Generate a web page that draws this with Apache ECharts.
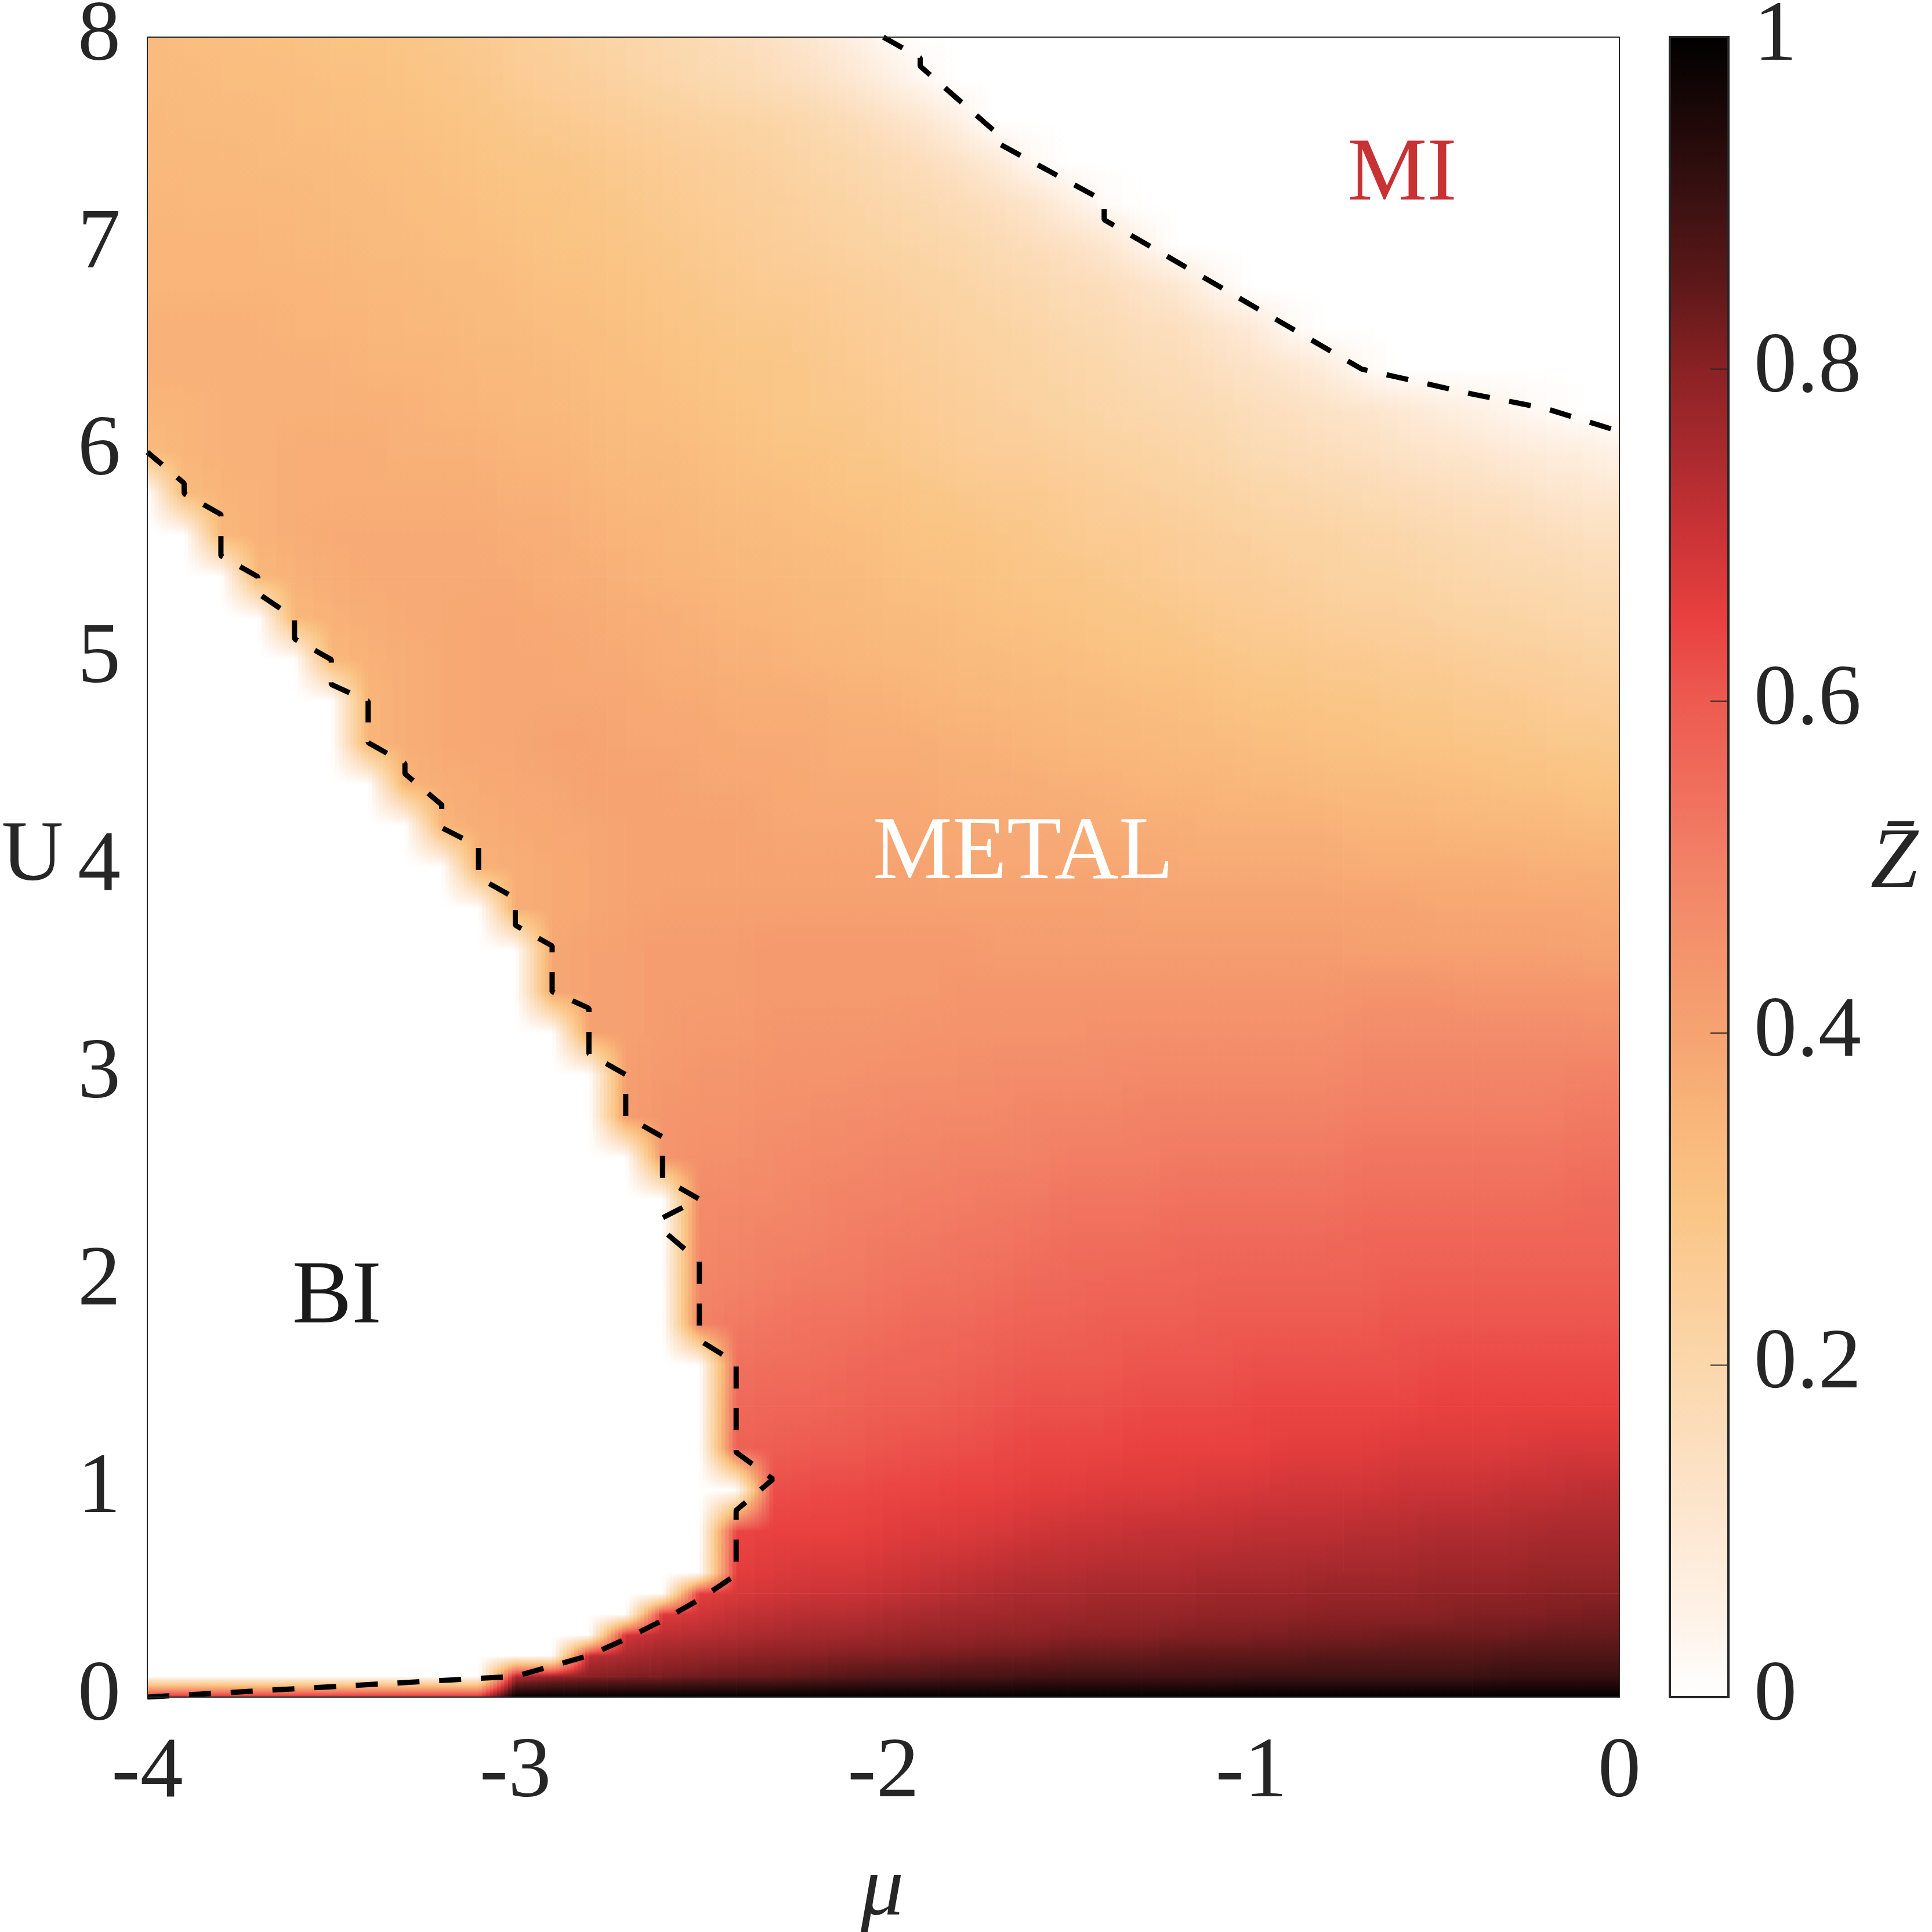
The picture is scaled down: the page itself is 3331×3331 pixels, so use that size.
<!DOCTYPE html>
<html>
<head>
<meta charset="utf-8">
<script src="https://cdn.jsdelivr.net/npm/echarts@6/dist/echarts.min.js"></script>
<style>
  html, body { margin: 0; padding: 0; background: #fff; }
  #main { width: 3331px; height: 3331px; }
</style>
</head>
<body>
<div id="main"></div>
<script>
// chemical potential columns and interaction rows of the Z map
var muValues = [-4.0, -3.9, -3.8, -3.7, -3.6, -3.5, -3.4, -3.3, -3.2, -3.1,
  -3.0, -2.9, -2.8, -2.7, -2.6, -2.5, -2.4, -2.3, -2.2, -2.1,
  -2.0, -1.9, -1.8, -1.7, -1.6, -1.5, -1.4, -1.3, -1.2, -1.1,
  -1.0, -0.9, -0.8, -0.7, -0.6, -0.5, -0.4, -0.3, -0.2, -0.1, 0.0];
var uLevels = [0, 0.1, 0.2, 0.3, 0.4, 0.5, 0.6, 0.8, 1.0, 1.2, 1.4, 1.6, 1.8, 2.0,
  2.2, 2.4, 2.6, 2.8, 3.0, 3.2, 3.4, 3.6, 3.8, 4.0, 4.2, 4.4, 4.6, 4.8, 5.0,
  5.2, 5.4, 5.6, 5.8, 6.0, 6.2, 6.4, 6.6, 6.8, 7.0, 7.2, 7.4, 7.6, 7.8, 8.0];

// quasiparticle weight, one row per U level, one column per mu
var zGrid = [
  [.7,.7,.7,.7,.7,.7,.7,.7,.7,.7, 1,1,1,1,1,1,1,1,1,1, 1,1,1,1,1,1,1,1,1,1, 1,1,1,1,1,1,1,1,1,1, 1],
  [0,0,0,0,0,0,0,0,0,0, .74,.78,.8,.81,.82,.83,.84,.84,.85,.86, .87,.87,.88,.88,.89,.89,.89,.89,.89,.89, .9,.9,.9,.9,.9,.9,.9,.91,.91,.91, .91],
  [0,0,0,0,0,0,0,0,0,0, 0,0,.72,.75,.77,.78,.79,.8,.8,.81, .81,.82,.82,.83,.83,.84,.84,.84,.85,.85, .85,.85,.86,.86,.86,.86,.86,.87,.87,.87, .87],
  [0,0,0,0,0,0,0,0,0,0, 0,0,0,.69,.72,.73,.74,.75,.76,.76, .77,.78,.78,.79,.79,.8,.8,.8,.81,.81, .81,.82,.82,.82,.83,.83,.83,.83,.84,.84, .84],
  [0,0,0,0,0,0,0,0,0,0, 0,0,0,0,.67,.69,.71,.72,.73,.73, .74,.75,.76,.76,.77,.77,.78,.78,.78,.79, .79,.79,.8,.8,.8,.8,.81,.81,.81,.82, .82],
  [0,0,0,0,0,0,0,0,0,0, 0,0,0,0,0,.66,.68,.69,.7,.7, .71,.72,.73,.74,.75,.75,.76,.76,.76,.77, .77,.77,.78,.78,.78,.79,.79,.79,.8,.8, .8],
  [0,0,0,0,0,0,0,0,0,0, 0,0,0,0,0,0,.66,.67,.68,.68, .69,.7,.71,.72,.73,.73,.74,.74,.74,.75, .75,.75,.76,.76,.76,.77,.77,.77,.78,.78, .78],
  [0,0,0,0,0,0,0,0,0,0, 0,0,0,0,0,0,.64,.65,.65,.65, .66,.67,.67,.68,.69,.7,.7,.71,.71,.71, .72,.72,.72,.73,.73,.74,.74,.74,.75,.75, .75],
  [0,0,0,0,0,0,0,0,0,0, 0,0,0,0,0,0,0,.62,.63,.63, .64,.64,.65,.65,.66,.66,.67,.67,.67,.68, .68,.69,.69,.69,.7,.7,.7,.71,.71,.72, .72],
  [0,0,0,0,0,0,0,0,0,0, 0,0,0,0,0,0,.58,.59,.6,.6, .61,.62,.62,.63,.64,.64,.64,.65,.65,.65, .65,.66,.66,.66,.67,.67,.67,.67,.68,.68, .68],
  [0,0,0,0,0,0,0,0,0,0, 0,0,0,0,0,0,.56,.57,.57,.58, .59,.59,.6,.61,.62,.62,.62,.63,.63,.63, .64,.64,.64,.64,.64,.65,.65,.65,.65,.65, .65],
  [0,0,0,0,0,0,0,0,0,0, 0,0,0,0,0,0,.54,.55,.55,.56, .57,.57,.58,.59,.6,.6,.6,.61,.61,.61, .62,.62,.62,.62,.62,.63,.63,.63,.63,.63, .63],
  [0,0,0,0,0,0,0,0,0,0, 0,0,0,0,0,.5,.52,.53,.54,.54, .55,.56,.56,.57,.58,.58,.59,.59,.59,.6, .6,.6,.6,.6,.61,.61,.61,.61,.61,.61, .61],
  [0,0,0,0,0,0,0,0,0,0, 0,0,0,0,0,.49,.5,.51,.52,.52, .53,.54,.54,.55,.56,.56,.57,.57,.57,.58, .58,.58,.58,.58,.59,.59,.59,.59,.59,.59, .59],
  [0,0,0,0,0,0,0,0,0,0, 0,0,0,0,0,.48,.49,.5,.5,.51, .52,.52,.53,.53,.54,.55,.55,.55,.56,.56, .56,.56,.56,.57,.57,.57,.57,.57,.57,.57, .57],
  [0,0,0,0,0,0,0,0,0,0, 0,0,0,0,0,.47,.48,.48,.49,.5, .5,.51,.51,.52,.52,.53,.53,.53,.54,.54, .54,.54,.54,.55,.55,.55,.55,.55,.55,.56, .56],
  [0,0,0,0,0,0,0,0,0,0, 0,0,0,0,.44,.46,.46,.47,.48,.48, .49,.49,.5,.5,.5,.51,.51,.51,.52,.52, .52,.52,.52,.53,.53,.53,.53,.53,.53,.54, .54],
  [0,0,0,0,0,0,0,0,0,0, 0,0,0,.42,.44,.45,.45,.46,.46,.47, .47,.48,.48,.48,.49,.49,.49,.5,.5,.5, .5,.5,.5,.51,.51,.51,.51,.51,.51,.52, .52],
  [0,0,0,0,0,0,0,0,0,0, 0,0,0,.41,.43,.44,.44,.45,.45,.45, .46,.46,.46,.47,.47,.47,.47,.48,.48,.48, .48,.48,.48,.49,.49,.49,.49,.49,.49,.5, .5],
  [0,0,0,0,0,0,0,0,0,0, 0,0,.4,.41,.42,.43,.43,.44,.44,.44, .44,.45,.45,.45,.45,.45,.46,.46,.46,.46, .46,.46,.46,.47,.47,.47,.47,.47,.47,.47, .46],
  [0,0,0,0,0,0,0,0,0,0, 0,.39,.4,.41,.42,.42,.42,.43,.43,.43, .43,.43,.44,.44,.44,.44,.44,.44,.44,.44, .44,.44,.44,.45,.45,.45,.44,.44,.44,.44, .44],
  [0,0,0,0,0,0,0,0,0,0, 0,.39,.4,.41,.42,.42,.42,.43,.43,.43, .43,.43,.43,.42,.42,.42,.42,.42,.42,.42, .42,.42,.42,.41,.41,.41,.41,.41,.41,.4, .4],
  [0,0,0,0,0,0,0,0,0,0, .37,.38,.39,.4,.41,.41,.41,.41,.41,.41, .41,.41,.41,.41,.41,.41,.41,.4,.4,.4, .4,.4,.4,.4,.4,.39,.39,.39,.39,.39, .38],
  [0,0,0,0,0,0,0,0,0,.36, .37,.38,.39,.4,.4,.4,.4,.4,.4,.4, .4,.4,.39,.39,.39,.39,.39,.39,.38,.38, .38,.38,.38,.37,.37,.37,.37,.37,.36,.36, .36],
  [0,0,0,0,0,0,0,0,.35,.37, .38,.39,.39,.4,.4,.4,.4,.39,.39,.39, .39,.39,.38,.38,.38,.38,.37,.37,.37,.36, .36,.36,.36,.35,.35,.35,.34,.34,.34,.33, .33],
  [0,0,0,0,0,0,0,.35,.37,.38, .39,.39,.4,.4,.4,.39,.39,.39,.38,.38, .38,.38,.37,.37,.37,.36,.36,.35,.35,.35, .34,.34,.33,.33,.33,.32,.32,.31,.31,.3, .3],
  [0,0,0,0,0,0,.35,.37,.38,.39, .39,.4,.4,.39,.39,.39,.38,.38,.38,.37, .37,.37,.36,.36,.35,.35,.34,.34,.33,.33, .32,.32,.31,.31,.3,.3,.29,.29,.28,.28, .27],
  [0,0,0,0,0,0,.35,.37,.38,.39, .39,.39,.39,.39,.38,.38,.37,.37,.37,.36, .36,.35,.35,.34,.34,.33,.33,.32,.32,.31, .3,.3,.29,.29,.28,.28,.27,.27,.26,.25, .25],
  [0,0,0,0,0,.34,.36,.37,.38,.39, .39,.39,.38,.38,.37,.37,.36,.36,.35,.35, .34,.34,.33,.33,.32,.32,.31,.3,.3,.29, .28,.28,.27,.27,.26,.26,.25,.24,.24,.23, .22],
  [0,0,0,0,.34,.36,.37,.38,.38,.39, .39,.38,.38,.37,.37,.36,.35,.35,.34,.34, .33,.33,.32,.31,.31,.3,.29,.29,.28,.27, .26,.26,.25,.24,.24,.23,.22,.22,.21,.2, .2],
  [0,0,0,.34,.36,.37,.38,.38,.38,.38, .38,.37,.37,.36,.35,.35,.34,.34,.33,.33, .32,.31,.31,.3,.29,.29,.28,.27,.26,.25, .25,.24,.23,.22,.22,.21,.2,.19,.19,.18, .17],
  [0,0,.34,.36,.37,.38,.38,.38,.38,.38, .37,.37,.36,.35,.35,.34,.33,.33,.32,.32, .31,.3,.3,.29,.28,.27,.26,.26,.25,.24, .23,.22,.22,.21,.2,.19,.18,.17,.16,.15, .14],
  [0,.33,.35,.36,.37,.37,.37,.37,.37,.37, .36,.36,.35,.34,.34,.33,.32,.32,.31,.3, .3,.29,.28,.27,.27,.26,.25,.24,.23,.22, .21,.2,.19,.18,.17,.16,.15,.14,.12,.11, .1],
  [.33,.35,.36,.36,.37,.37,.37,.36,.36,.36, .35,.35,.34,.33,.33,.32,.31,.3,.3,.29, .28,.27,.26,.25,.25,.24,.23,.22,.21,.2, .18,.17,.16,.15,.13,.12,.11,.09,.08,.07, .05],
  [.35,.35,.36,.36,.36,.36,.36,.36,.35,.35, .34,.34,.33,.32,.32,.31,.3,.29,.28,.28, .27,.26,.25,.24,.23,.22,.21,.2,.19,.18, .16,.15,.13,.12,.1,.08,.06,.04,.02,0, 0],
  [.36,.36,.36,.36,.36,.36,.35,.35,.35,.34, .34,.33,.32,.32,.31,.3,.29,.29,.28,.27, .26,.25,.24,.23,.22,.21,.2,.18,.17,.15, .13,.11,.08,.03,0,0,0,0,0,0, 0],
  [.36,.36,.36,.36,.35,.35,.35,.34,.34,.33, .33,.32,.32,.31,.3,.29,.28,.28,.27,.26, .25,.24,.23,.22,.21,.19,.18,.16,.15,.12, .09,.03,0,0,0,0,0,0,0,0, 0],
  [.35,.35,.35,.35,.35,.35,.34,.34,.33,.33, .32,.31,.31,.3,.29,.28,.27,.26,.26,.25, .24,.23,.22,.2,.19,.17,.16,.13,.1,.04, 0,0,0,0,0,0,0,0,0,0, 0],
  [.35,.35,.35,.35,.34,.34,.33,.33,.32,.32, .31,.3,.3,.29,.28,.27,.26,.25,.24,.23, .22,.21,.2,.18,.16,.14,.11,.05,0,0, 0,0,0,0,0,0,0,0,0,0, 0],
  [.35,.34,.34,.34,.34,.33,.33,.32,.32,.31, .3,.3,.29,.28,.27,.26,.25,.24,.23,.22, .2,.19,.17,.15,.12,.07,.02,0,0,0, 0,0,0,0,0,0,0,0,0,0, 0],
  [.34,.34,.34,.33,.33,.33,.32,.32,.31,.3, .29,.29,.28,.27,.26,.25,.24,.23,.21,.2, .18,.16,.13,.09,.03,0,0,0,0,0, 0,0,0,0,0,0,0,0,0,0, 0],
  [.34,.33,.33,.33,.32,.32,.31,.31,.3,.29, .28,.27,.26,.25,.24,.23,.22,.21,.19,.17, .14,.11,.06,0,0,0,0,0,0,0, 0,0,0,0,0,0,0,0,0,0, 0],
  [.33,.33,.32,.32,.32,.31,.31,.3,.29,.28, .26,.25,.24,.22,.21,.19,.18,.16,.14,.11, .07,.03,0,0,0,0,0,0,0,0, 0,0,0,0,0,0,0,0,0,0, 0],
  [.33,.32,.32,.31,.31,.3,.3,.29,.28,.27, .25,.24,.22,.21,.19,.18,.16,.14,.11,.07, .03,0,0,0,0,0,0,0,0,0, 0,0,0,0,0,0,0,0,0,0, 0]
];

// band insulator boundary (dashed)
var biMu = [-4.0, -3.0, -2.9, -2.8, -2.7, -2.6, -2.5, -2.4, -2.4, -2.3, -2.4, -2.4, -2.5, -2.5,
  -2.6, -2.6, -2.5, -2.6, -2.6, -2.7, -2.7, -2.8, -2.8, -2.9, -2.9, -3.0, -3.0, -3.1, -3.1,
  -3.2, -3.2, -3.3, -3.3, -3.4, -3.4, -3.5, -3.5, -3.6, -3.6, -3.7, -3.7, -3.8, -3.8, -3.9, -3.9, -4.0];
var biU = [0.0, 0.10, 0.15, 0.20, 0.28, 0.37, 0.47, 0.59, 0.90, 1.05, 1.18, 1.61, 1.72, 2.10,
  2.25, 2.31, 2.40, 2.50, 2.70, 2.80, 3.00, 3.10, 3.32, 3.40, 3.62, 3.72, 3.85, 3.95, 4.10,
  4.19, 4.30, 4.45, 4.50, 4.60, 4.80, 4.88, 5.00, 5.10, 5.20, 5.32, 5.40, 5.50, 5.70, 5.80, 5.85, 6.00];

// Mott insulator boundary (dashed)
var miMu = [-2.0, -1.9, -1.9, -1.7, -1.7, -1.4, -1.4, -0.7, -0.4, -0.2, 0.0];
var miU = [8.0, 7.90, 7.86, 7.55, 7.50, 7.21, 7.12, 6.40, 6.28, 6.21, 6.10];

// phase labels
var labelNames = ['METAL', 'BI', 'MI'];
var labelMu = [-1.62, -3.485, -0.59];
var labelU = [4.09, 1.95, 7.36];
var labelColors = ['#ffffff', '#1a1a1a', '#c93234'];

// colour bar ticks
var barTicks = [0, 0.2, 0.4, 0.6, 0.8, 1];

// colour map, evenly spaced from 0 to 1
var cmap = ['#ffffff', '#fef2e7', '#fde8d3', '#fcdfbf', '#fbd7ab', '#fbcd98', '#fac483',
  '#f9b57a', '#f6a371', '#f4936c', '#f28266', '#f06d5c', '#ed5a50', '#e9403f',
  '#cb3336', '#a92a2e', '#8a2124', '#5e1819', '#3c1112', '#1e0808', '#000000'];

var FONT = "'Liberation Serif', 'Times New Roman', serif";
var INK = '#262626';
var FS = 148;

function col(v) {
  return echarts.color.lerp(Math.max(0, Math.min(1, v)), cmap);
}

// one item per quad between four neighbouring grid nodes
var quads = [];
for (var j = 0; j < uLevels.length - 1; j++) {
  for (var i = 0; i < muValues.length - 1; i++) {
    quads.push([(muValues[i] + muValues[i + 1]) / 2, (uLevels[j] + uLevels[j + 1]) / 2, i, j]);
  }
}

function vGradient(lo, hi) {
  var m = Math.max(2, Math.ceil(Math.abs(hi - lo) / 0.03) + 1);
  var stops = [];
  for (var s = 0; s < m; s++) {
    var f = s / (m - 1);
    stops.push({ offset: f, color: col(lo + (hi - lo) * f) });
  }
  return new echarts.graphic.LinearGradient(0, 1, 0, 0, stops);
}

function renderQuad(params, api) {
  var i = api.value(2), j = api.value(3);
  var v00 = zGrid[j][i], v10 = zGrid[j][i + 1];
  var v01 = zGrid[j + 1][i], v11 = zGrid[j + 1][i + 1];
  var xa = muValues[i], xb = muValues[i + 1];
  var ya = uLevels[j], yb = uLevels[j + 1];
  var diff = Math.max(Math.abs(v10 - v00), Math.abs(v11 - v01));
  var n = Math.min(10, Math.max(1, Math.ceil(diff / 0.01)));
  var children = [];
  for (var k = 0; k < n; k++) {
    var tm = (k + 0.5) / n;
    var p = api.coord([xa + (xb - xa) * k / n, yb]);
    var q = api.coord([xa + (xb - xa) * (k + 1) / n, ya]);
    var lo = v00 + (v10 - v00) * tm, hi = v01 + (v11 - v01) * tm;
    children.push({
      type: 'rect',
      shape: { x: p[0], y: p[1], width: q[0] - p[0] + 0.7, height: q[1] - p[1] + 0.7 },
      style: { fill: (lo === hi) ? col(lo) : vGradient(lo, hi) }
    });
  }
  return { type: 'group', children: children };
}

function renderBar(params, api) {
  var a = api.coord([0, 1]);
  var b = api.coord([1, 0]);
  var stops = cmap.map(function (c, k) { return { offset: k / (cmap.length - 1), color: c }; });
  var children = [{
    type: 'rect',
    shape: { x: a[0], y: a[1], width: b[0] - a[0], height: b[1] - a[1] },
    style: { fill: new echarts.graphic.LinearGradient(0, 1, 0, 0, stops), stroke: INK, lineWidth: 4 }
  }];
  barTicks.forEach(function (t) {
    var p = api.coord([1, t]);
    children.push({ type: 'line', shape: { x1: p[0] - 31, y1: p[1], x2: p[0], y2: p[1] },
      style: { stroke: INK, lineWidth: 2 } });
  });
  return { type: 'group', children: children };
}

function renderLabel(params, api) {
  var k = params.dataIndex;
  var p = api.coord([api.value(0), api.value(1)]);
  return {
    type: 'text', x: p[0], y: p[1] + 11,
    style: { text: labelNames[k], fill: labelColors[k], font: '154px ' + FONT,
      align: 'center', verticalAlign: 'middle' }
  };
}

function pairs(xs, ys) {
  return xs.map(function (x, k) { return [x, ys[k]]; });
}

var chart = echarts.init(document.getElementById('main'));
var boxLine = { show: true, onZero: false, lineStyle: { color: INK, width: 2 } };
var tickText = { fontSize: FS, fontFamily: FONT, color: INK };
var dash = { color: '#000000', width: 9, type: [38, 34] };

chart.setOption({
  animation: false,
  backgroundColor: '#ffffff',
  grid: [
    { left: 254, top: 64, width: 2538, height: 2862, outerBoundsMode: 'none', containLabel: false },
    { left: 2879, top: 64, width: 101, height: 2862, outerBoundsMode: 'none', containLabel: false }
  ],
  xAxis: [
    { type: 'value', gridIndex: 0, min: -4, max: 0, interval: 1, position: 'bottom', z: 10,
      axisLine: boxLine, axisTick: { show: false }, splitLine: { show: false },
      axisLabel: Object.assign({ margin: 58 }, tickText) },
    { type: 'value', gridIndex: 0, min: -4, max: 0, position: 'top', z: 10,
      axisLine: boxLine, axisTick: { show: false }, splitLine: { show: false }, axisLabel: { show: false } },
    { type: 'value', gridIndex: 1, min: 0, max: 1, show: false }
  ],
  yAxis: [
    { type: 'value', gridIndex: 0, min: 0, max: 8, interval: 1, position: 'left', z: 10,
      axisLine: boxLine, axisTick: { show: false }, splitLine: { show: false },
      axisLabel: Object.assign({ margin: 46 }, tickText) },
    { type: 'value', gridIndex: 0, min: 0, max: 8, position: 'right', z: 10,
      axisLine: boxLine, axisTick: { show: false }, splitLine: { show: false }, axisLabel: { show: false } },
    { type: 'value', gridIndex: 1, min: 0, max: 1, interval: 0.2, position: 'right', z: 10,
      axisLine: { show: false }, axisTick: { show: false }, splitLine: { show: false },
      axisLabel: Object.assign({ margin: 44 }, tickText) }
  ],
  graphic: [
    { type: 'text', x: 56, y: 1478, z: 20,
      style: { text: 'U', font: FS + 'px ' + FONT, fill: INK, align: 'center', verticalAlign: 'middle' } },
    { type: 'text', x: 1521, y: 3262, z: 20,
      style: { text: '\u03bc', font: 'italic ' + FS + 'px ' + FONT, fill: INK, align: 'center', verticalAlign: 'middle' } },
    { type: 'text', x: 3266, y: 1490, z: 20,
      style: { text: 'Z\u0304', font: 'italic ' + FS + 'px ' + FONT, fill: INK, align: 'center', verticalAlign: 'middle' } }
  ],
  series: [
    { type: 'custom', name: 'Z', xAxisIndex: 0, yAxisIndex: 0, z: 1,
      encode: { x: 0, y: 1 }, data: quads, renderItem: renderQuad },
    { type: 'line', name: 'BI boundary', xAxisIndex: 0, yAxisIndex: 0, z: 5,
      symbol: 'none', data: pairs(biMu, biU), lineStyle: dash },
    { type: 'line', name: 'MI boundary', xAxisIndex: 0, yAxisIndex: 0, z: 5,
      symbol: 'none', data: pairs(miMu, miU), lineStyle: dash },
    { type: 'custom', name: 'phases', xAxisIndex: 0, yAxisIndex: 0, z: 6,
      encode: { x: 0, y: 1 }, data: pairs(labelMu, labelU), renderItem: renderLabel },
    { type: 'custom', name: 'colorbar', xAxisIndex: 2, yAxisIndex: 2, z: 1,
      data: [[0, 1]], renderItem: renderBar }
  ]
});
</script>
</body>
</html>
